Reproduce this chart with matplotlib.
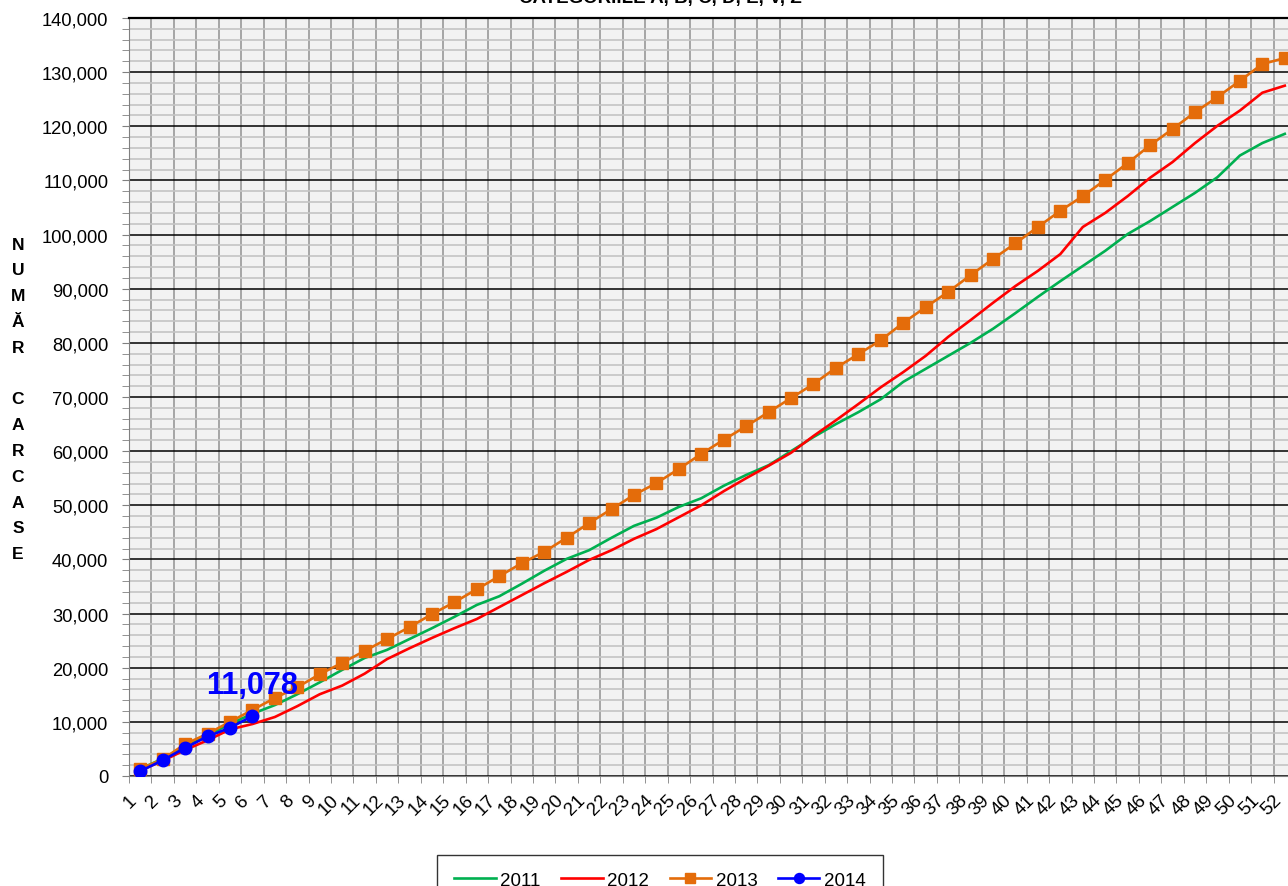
import matplotlib.pyplot as plt
import numpy as np
from matplotlib.ticker import FuncFormatter, MultipleLocator

plt.rcParams['font.family'] = ['Liberation Sans', 'DejaVu Sans']

# saptamanile 1..52
weeks = list(range(1, 53))

y2011 = [1300, 3200, 5400, 7500, 9600, 11500, 13100, 15100, 17300, 19600,
         21800, 23300, 25300, 27300, 29400, 31600, 33200, 35500, 37900, 40100,
         41700, 44000, 46200, 47700, 49700, 51300, 53600, 55600, 57400, 60000,
         62600, 65000, 67200, 69600, 72800, 75200, 77600, 80000, 82600, 85500,
         88500, 91400, 94200, 97000, 100100, 102500, 105100, 107700, 110600, 114600,
         116900, 118600]
y2012 = [1000, 2800, 4800, 6600, 8600, 9600, 10900, 12900, 15100, 16700,
         18900, 21600, 23600, 25500, 27300, 29000, 31200, 33400, 35600, 37700,
         39900, 41700, 43800, 45600, 47800, 50000, 52600, 55000, 57300, 59700,
         62800, 65700, 68700, 71800, 74600, 77600, 81100, 84200, 87400, 90500,
         93300, 96400, 101400, 104000, 107100, 110500, 113400, 116900, 120100, 122900,
         126200, 127500]
y2013 = [1300, 3100, 5900, 7800, 10000, 12200, 14400, 16400, 18800, 20900,
         23100, 25300, 27500, 29900, 32100, 34500, 36900, 39300, 41400, 44000,
         46700, 49300, 51900, 54100, 56700, 59500, 62100, 64600, 67200, 69800,
         72400, 75400, 77900, 80500, 83700, 86600, 89400, 92500, 95500, 98400,
         101400, 104400, 107100, 110100, 113200, 116500, 119500, 122600, 125400, 128400,
         131500, 132600]
y2014 = [900, 2900, 5200, 7300, 8900, 11078]

title = 'CATEGORIILE A, B, C, D, E, V, Z'
ylabel_letters = ['N', 'U', 'M', 'Ă', 'R', ' ', 'C', 'A', 'R', 'C', 'A', 'S', 'E']

W, H = 1288, 887
fig = plt.figure(figsize=(W / 100, H / 100), dpi=100)
ax = fig.add_axes([129 / W, (H - 777) / H, (1296 - 129) / W, (777 - 19) / H])
ax.set_facecolor('#f2f2f2')

ax.plot(weeks, y2011, color='#00b050', lw=1.9, label='2011', zorder=3)
ax.plot(weeks, y2012, color='#ff0000', lw=1.9, label='2012', zorder=3)
ax.plot(weeks, y2013, color='#e46c0a', lw=1.9, marker='s', ms=8.5,
        label='2013', zorder=4)
ax.plot(weeks[:len(y2014)], y2014, color='#0000ff', lw=1.9, marker='o', ms=9,
        label='2014', zorder=5)

ax.text(weeks[len(y2014) - 1], y2014[-1] + 3000, f'{y2014[-1]:,}', color='#0000ff',
        fontsize=22, fontweight='bold', ha='center', va='bottom', zorder=6)

ax.set_xlim(0.5, 52.5)
ax.set_ylim(0, 140000)

ax.set_xticks(weeks)
ax.set_xticklabels([str(w) for w in weeks], rotation=45, ha='right', va='top',
                   fontsize=13.5)
ax.set_xticks(np.arange(0.5, 53, 1), minor=True)
ax.tick_params(axis='x', which='major', length=0, pad=11)
ax.tick_params(axis='x', which='minor', length=5, color='#808080')

ax.yaxis.set_major_locator(MultipleLocator(10000))
ax.yaxis.set_minor_locator(MultipleLocator(2000))
ax.yaxis.set_major_formatter(FuncFormatter(lambda v, p: f'{int(v):,}'))
ax.tick_params(axis='y', which='both', length=5, color='#808080', labelsize=13.2, pad=10)

ax.grid(True, axis='x', which='minor', color='#999999', lw=1.2, zorder=1)
ax.grid(True, axis='y', which='minor', color='#c4c4c4', lw=1.2, zorder=1)
ax.grid(True, axis='y', which='major', color='black', lw=1.1, zorder=2)
ax.grid(False, axis='x', which='major')

for side in ['left', 'bottom']:
    ax.spines[side].set_color('#808080')
ax.spines['top'].set_color('black')
ax.spines['top'].set_linewidth(1.6)
ax.spines['right'].set_visible(False)

fig.text(660 / W, 1 - 3 / H, title, ha='center', va='baseline', fontsize=13.5,
         fontweight='bold')
fig.text(18 / W, 1 - 400 / H, '\n'.join(ylabel_letters), ha='center', va='center',
         fontsize=12.5, fontweight='bold', linespacing=1.9)

leg = fig.legend(loc='upper center', bbox_to_anchor=(660 / W, 1 - 856 / H), ncol=4,
                 fontsize=13.5, frameon=True, fancybox=False, edgecolor='black',
                 handlelength=2.2, columnspacing=1.1, handletextpad=0.25,
                 borderpad=0.9, borderaxespad=0, markerscale=0.8)
leg.get_frame().set_linewidth(1.0)

fig.savefig('out.png', dpi=100)
